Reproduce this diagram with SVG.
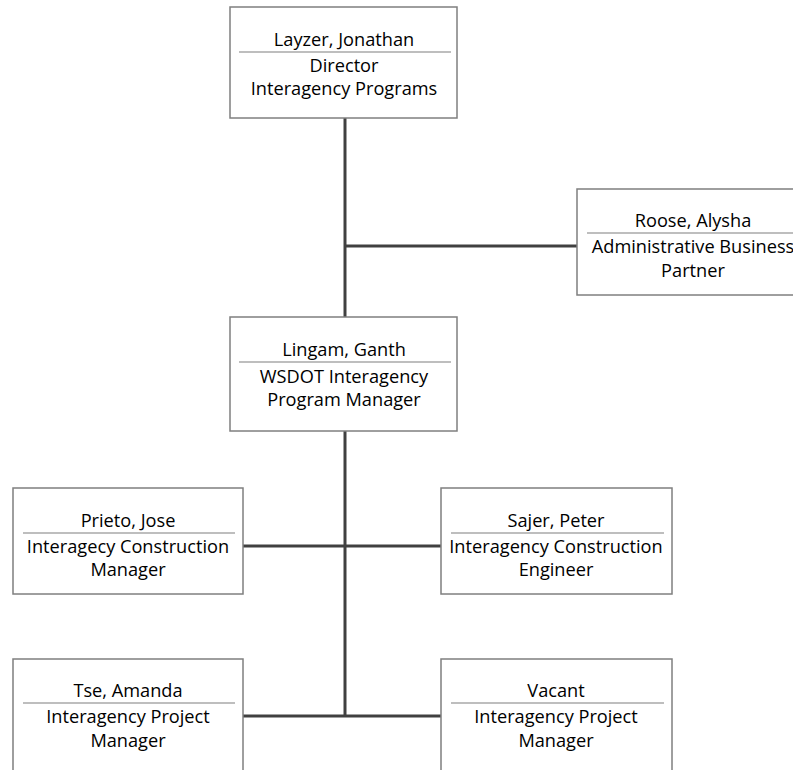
<svg xmlns="http://www.w3.org/2000/svg" width="793" height="770" viewBox="0 0 793 770">
<style>
.box{fill:#fff;stroke:#7f7f7f;stroke-width:1.5}
.div{stroke:#7f7f7f;stroke-width:1.2}
.conn{stroke:#404040;stroke-width:3;fill:none}
text{font-family:"Open Sans","Noto Sans",sans-serif;font-size:18.2px;fill:#000;text-anchor:middle}
</style>
<rect width="793" height="770" fill="#fff"/>
<g id="connectors">
<line class="conn" x1="345" y1="118" x2="345" y2="317"/>
<line class="conn" x1="345" y1="246" x2="577" y2="246"/>
<line class="conn" x1="345" y1="431" x2="345" y2="716"/>
<line class="conn" x1="243" y1="546" x2="441" y2="546"/>
<line class="conn" x1="243" y1="716" x2="441" y2="716"/>
</g>
<g id="layzer">
<rect class="box" x="230" y="7" width="227" height="111"/>
<line class="div" x1="239" y1="52" x2="451" y2="52"/>
<text x="344" y="46">Layzer, Jonathan</text>
<text x="344" y="72">Director</text>
<text x="344" y="95">Interagency Programs</text>
</g>
<g id="roose">
<rect class="box" x="577" y="189" width="232" height="106"/>
<line class="div" x1="587" y1="233" x2="800" y2="233"/>
<text x="693" y="227">Roose, Alysha</text>
<text x="693" y="253">Administrative Business</text>
<text x="693" y="277">Partner</text>
</g>
<g id="lingam">
<rect class="box" x="230" y="317" width="227" height="114"/>
<line class="div" x1="239" y1="362" x2="451" y2="362"/>
<text x="344" y="356">Lingam, Ganth</text>
<text x="344" y="383">WSDOT Interagency</text>
<text x="344" y="406">Program Manager</text>
</g>
<g id="prieto">
<rect class="box" x="13" y="488" width="230" height="106"/>
<line class="div" x1="23" y1="533" x2="235" y2="533"/>
<text x="128" y="527">Prieto, Jose</text>
<text x="128" y="553">Interagecy Construction</text>
<text x="128" y="576">Manager</text>
</g>
<g id="sajer">
<rect class="box" x="441" y="488" width="231" height="106"/>
<line class="div" x1="451" y1="533" x2="664" y2="533"/>
<text x="556" y="527">Sajer, Peter</text>
<text x="556" y="553">Interagency Construction</text>
<text x="556" y="576">Engineer</text>
</g>
<g id="tse">
<rect class="box" x="13" y="659" width="230" height="120"/>
<line class="div" x1="23" y1="703" x2="235" y2="703"/>
<text x="128" y="697">Tse, Amanda</text>
<text x="128" y="723">Interagency Project</text>
<text x="128" y="747">Manager</text>
</g>
<g id="vacant">
<rect class="box" x="441" y="659" width="231" height="120"/>
<line class="div" x1="451" y1="703" x2="664" y2="703"/>
<text x="556" y="697">Vacant</text>
<text x="556" y="723">Interagency Project</text>
<text x="556" y="747">Manager</text>
</g>
</svg>
